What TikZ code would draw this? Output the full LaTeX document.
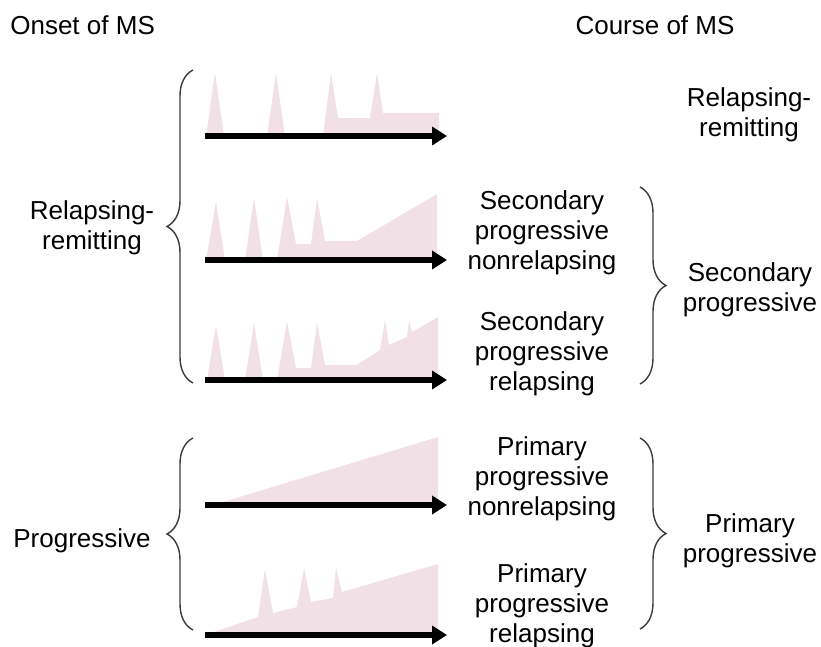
\documentclass[tikz,border=0pt]{standalone}
\usepackage{fontspec}
\setmainfont{Liberation Sans}
\usetikzlibrary{arrows.meta,decorations.pathreplacing}

\begin{document}
\begin{tikzpicture}[x=0.02cm, y=-0.02cm, >={Triangle[length=0.3cm, width=0.36cm]}]

        % Define colors matching the figure
        \definecolor{msattack}{RGB}{242, 224, 231}
        \definecolor{msbrace}{RGB}{60, 60, 60}

        \tikzset{
            label/.style={font=\fontsize{14.8}{17}\selectfont, align=center, inner sep=0pt},
            axis/.style={->, line width=0.11cm, black},
            curly/.style={decorate, decoration={brace, amplitude=0.52cm}, msbrace, line width=0.8pt},
        }

        % Page frame
        \useasboundingbox (0,0) rectangle (821,646);

        % Column headings
        \node[label, anchor=west] (onset) at (10,25) {Onset of MS};
        \node[label] (course) at (655,25) {Course of MS};

        % Disability profiles (attacks and progression)
        \fill[msattack] (206,136) -- (215,73) -- (224,136) -- (267,136) -- (276,73) -- (285,136)
            -- (323,136) -- (331,73) -- (338,118) -- (370,118) -- (377,73) -- (383,113)
            -- (439,113) -- (439,136) -- cycle;
        \fill[msattack] (206,260) -- (216,202) -- (225,260) -- (245,260) -- (254,198) -- (263,260)
            -- (277,260) -- (287,197) -- (296,244) -- (311,244) -- (317,198) -- (325,241)
            -- (357,241) -- (437,194) -- (437,260) -- cycle;
        \fill[msattack] (207,380) -- (216,325) -- (225,380) -- (245,380) -- (254,323) -- (263,380)
            -- (277,380) -- (287,322) -- (296,368) -- (311,368) -- (317,323) -- (325,365)
            -- (357,365) -- (380,350) -- (385,320) -- (389,345) -- (407,337) -- (409,320)
            -- (412,332) -- (438,317) -- (438,380) -- cycle;
        \fill[msattack] (213,505) -- (438,437) -- (438,505) -- cycle;
        \fill[msattack] (205,635) -- (258,617) -- (265,569) -- (273,613) -- (297,607) -- (304,568)
            -- (311,602) -- (333,598) -- (336,568) -- (342,592) -- (438,564) -- (438,635) -- cycle;

        % Time axes
        \foreach \i/\y in {1/136, 2/260, 3/380, 4/505, 5/635} {
            \coordinate (t\i s) at (205,\y);
            \coordinate (t\i e) at (447,\y);
            \draw[axis] (t\i s) -- (t\i e);
        }

        % Onset braces
        \coordinate (rrtop) at (193,70);
        \coordinate (rrbot) at (193,383);
        \coordinate (pptop) at (193,438);
        \coordinate (ppbot) at (193,630);
        \draw[curly] (rrbot) -- (rrtop);
        \draw[curly] (ppbot) -- (pptop);
        \node[label] (onsetrr) at (92,228) {Relapsing-\\remitting};
        \node[label] (onsetpp) at (82,541) {Progressive};

        % Course labels
        \node[label] (courserr) at (749,115) {Relapsing-\\remitting};
        \node[label] (spnr) at (542,233) {Secondary\\progressive\\nonrelapsing};
        \node[label] (spr) at (542,354) {Secondary\\progressive\\relapsing};
        \node[label] (ppnr) at (542,479) {Primary\\progressive\\nonrelapsing};
        \node[label] (ppr) at (542,606) {Primary\\progressive\\relapsing};

        % Course braces
        \coordinate (sptop) at (640,187);
        \coordinate (spbot) at (640,384);
        \coordinate (prtop) at (640,438);
        \coordinate (prbot) at (640,629);
        \draw[curly] (sptop) -- (spbot);
        \draw[curly] (prtop) -- (prbot);
        \node[label] (coursesp) at (750,290) {Secondary\\progressive};
        \node[label] (coursepp) at (750,541) {Primary\\progressive};

\end{tikzpicture}
\end{document}
